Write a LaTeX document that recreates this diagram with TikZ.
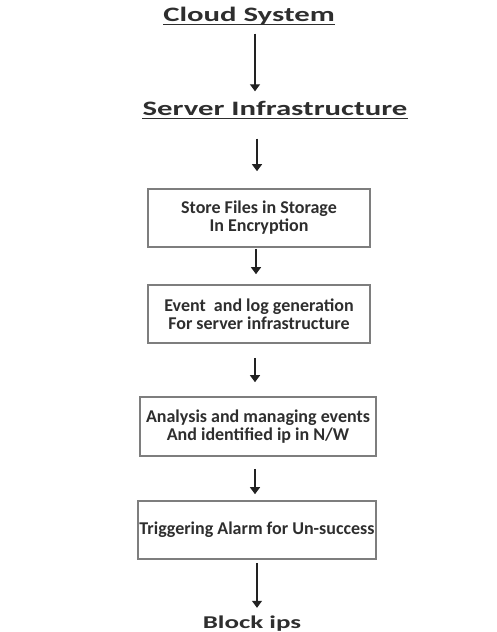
\documentclass[tikz,border=0pt]{standalone}
\usepackage{fontspec}
\setmainfont{Carlito}
\newfontfamily\headfont{Carlito}[FakeStretch=1.5]
\usetikzlibrary{arrows.meta}
\definecolor{inkgray}{HTML}{2E2E2E}
\definecolor{framegray}{HTML}{7E7E7E}
\definecolor{arrowgray}{HTML}{222222}
\tikzset{
  heading/.style={inner sep=0pt, text height=13pt, text depth=4pt,
    font=\headfont\bfseries\fontsize{20.5}{20.5}\selectfont, text=inkgray},
  plainlabel/.style={inner sep=0pt, text height=12pt, text depth=4pt,
    font=\headfont\bfseries\fontsize{18}{18}\selectfont, text=inkgray},
  stepbox/.style={draw=framegray, line width=1.6pt, rectangle, align=center,
    inner sep=0pt, font=\bfseries\fontsize{18}{18}\selectfont, text=inkgray},
  flow/.style={draw=arrowgray, line width=1.2pt,
    -{Triangle[length=7pt, width=10pt]}},
  uline/.style={draw=inkgray, line width=1.3pt}
}
\begin{document}
\begin{tikzpicture}[x=1pt, y=-1pt]
  \useasboundingbox (0,0) rectangle (496,632);

  % headings and process steps
  \node[heading] (cloud)  at (249,17)  {Cloud System};
  \node[heading] (server) at (275,111) {Server Infrastructure};
  \node[stepbox, minimum width=222pt, minimum height=58pt] (store)  at (259,218)
    {Store Files in Storage\\In Encryption};
  \node[stepbox, minimum width=222pt, minimum height=58pt] (event)  at (259,314)
    {Event\ \ and log generation\\For server infrastructure};
  \node[stepbox, minimum width=236pt, minimum height=59pt] (analyse) at (258,426.5)
    {Analysis and managing events\\And identified ip in N/W};
  \node[stepbox, minimum width=238pt, minimum height=58pt] (alarm)  at (257,530)
    {Triggering Alarm for Un-success};
  \node[plainlabel] (block)  at (252,624) {Block ips};

  % underlines of the two headings
  \draw[uline] ([yshift=1pt]cloud.south west) -- ([yshift=1pt]cloud.south east);
  \draw[uline] ([yshift=1pt]server.south west) -- ([yshift=1pt]server.south east);

  % connectors
  \draw[flow, shorten <=8pt, shorten >=11pt]
    ([xshift=6pt]cloud.south) -- ([xshift=-20pt]server.north);
  \draw[flow, shorten <=19pt, shorten >=17pt]
    ([xshift=-18pt]server.south) -- ([xshift=-2pt]store.north);
  \draw[flow, shorten <=1pt, shorten >=10pt]
    ([xshift=-3pt]store.south) -- ([xshift=-3pt]event.north);
  \draw[flow, shorten <=14pt, shorten >=14pt]
    ([xshift=-4pt]event.south) -- ([xshift=-3pt]analyse.north);
  \draw[flow, shorten <=12pt, shorten >=6pt]
    ([xshift=-3pt]analyse.south) -- ([xshift=-2pt]alarm.north);
  \draw[flow, shorten <=3pt, shorten >=8pt]
    (alarm.south) -- ([xshift=5pt]block.north);
\end{tikzpicture}
\end{document}
